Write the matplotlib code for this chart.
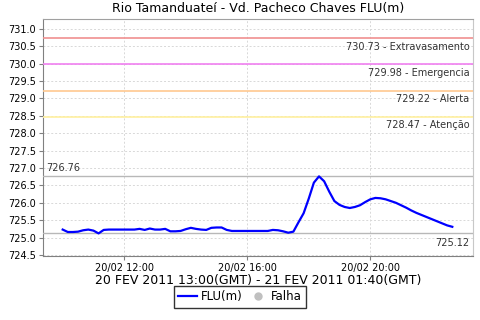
import numpy as np
import matplotlib
matplotlib.use("Agg")
import matplotlib.pyplot as plt
import matplotlib.dates as mdates

# ---------- data ----------
start = np.datetime64("2011-02-20T10:00")
step_min = 10
flu = [725.23, 725.16, 725.16, 725.17, 725.21, 725.23, 725.20, 725.12, 725.22, 725.23,
       725.23, 725.23, 725.23, 725.23, 725.23, 725.25, 725.22, 725.26, 725.23, 725.23,
       725.25, 725.18, 725.18, 725.19, 725.24, 725.28, 725.25, 725.23, 725.22, 725.28,
       725.29, 725.29, 725.22, 725.19, 725.19, 725.19, 725.19, 725.19, 725.19, 725.19,
       725.19, 725.22, 725.21, 725.18, 725.14, 725.17, 725.44, 725.70, 726.12, 726.58,
       726.76, 726.62, 726.32, 726.05, 725.94, 725.88, 725.85, 725.88, 725.93, 726.02,
       726.10, 726.14, 726.13, 726.10, 726.05, 726.00, 725.93, 725.86, 725.78, 725.71,
       725.65, 725.59, 725.53, 725.47, 725.41, 725.35, 725.31]
times = start + np.arange(len(flu)) * np.timedelta64(step_min, "m")

levels = [730.73, 729.98, 729.22, 728.47]
level_names = ["Extravasamento", "Emergencia", "Alerta", "Atenção"]
level_colors = ["#f09090", "#f080f0", "#ffc890", "#fff0a0"]
max_val = 726.76
min_val = 725.12

# ---------- plot ----------
fig = plt.figure(figsize=(4.8, 3.2), dpi=100)
ax = fig.add_axes([0.090, 0.200, 0.895, 0.740])

ax.plot(times.astype("datetime64[m]").astype(object), flu, color="#0000ff", lw=1.6, zorder=5)

for v, name, c in zip(levels, level_names, level_colors):
    ax.axhline(v, color=c, lw=1.2, zorder=3)
    ax.text(0.992, v - 0.1, "%.2f - %s" % (v, name), transform=ax.get_yaxis_transform(),
            ha="right", va="top", fontsize=7, color="#333333")

ax.axhline(max_val, color="#b8b8b8", lw=1.0, zorder=3)
ax.text(0.008, max_val + 0.1, "%.2f" % max_val, transform=ax.get_yaxis_transform(),
        ha="left", va="bottom", fontsize=7, color="#333333")
ax.axhline(min_val, color="#b8b8b8", lw=1.0, zorder=3)
ax.text(0.992, min_val - 0.12, "%.2f" % min_val, transform=ax.get_yaxis_transform(),
        ha="right", va="top", fontsize=7, color="#333333")

ax.set_ylim(724.47, 731.28)
ax.set_yticks(np.arange(724.5, 731.01, 0.5))
ax.yaxis.set_major_formatter(plt.FormatStrFormatter("%.1f"))

ax.set_xlim(np.datetime64("2011-02-20T09:22").astype(object),
            np.datetime64("2011-02-20T23:20").astype(object))
ax.xaxis.set_major_locator(mdates.HourLocator(byhour=[12, 16, 20]))
ax.xaxis.set_major_formatter(mdates.DateFormatter("%d/%m %H:%M"))

ax.grid(True, color="#d8d8d8", ls=(0, (2, 2)), lw=0.7)
ax.tick_params(labelsize=7, length=3, color="#808080", pad=2)
for s in ["left", "bottom"]:
    ax.spines[s].set_color("#808080")
ax.spines["top"].set_color("#a0a0a0")
ax.spines["right"].set_color("#c8c8c8")

ax.set_title("Rio Tamanduateí - Vd. Pacheco Chaves FLU(m)", fontsize=9, pad=5)
ax.set_xlabel("20 FEV 2011 13:00(GMT) - 21 FEV 2011 01:40(GMT)", fontsize=9, labelpad=1)

# legend
h1, = ax.plot([], [], color="#0000ff", lw=1.6, label="FLU(m)")
h2, = ax.plot([], [], ls="none", marker="o", ms=5, color="#c0c0c0", label="Falha")
leg = fig.legend(handles=[h1, h2], loc="center", bbox_to_anchor=(0.5, 0.072), ncol=2,
                 fontsize=8.5, frameon=True, fancybox=False, handlelength=1.6,
                 handletextpad=0.3, columnspacing=0.5, borderpad=0.35)
leg.get_frame().set_edgecolor("black")
leg.get_frame().set_linewidth(1.0)

fig.savefig("out.png", dpi=100)
